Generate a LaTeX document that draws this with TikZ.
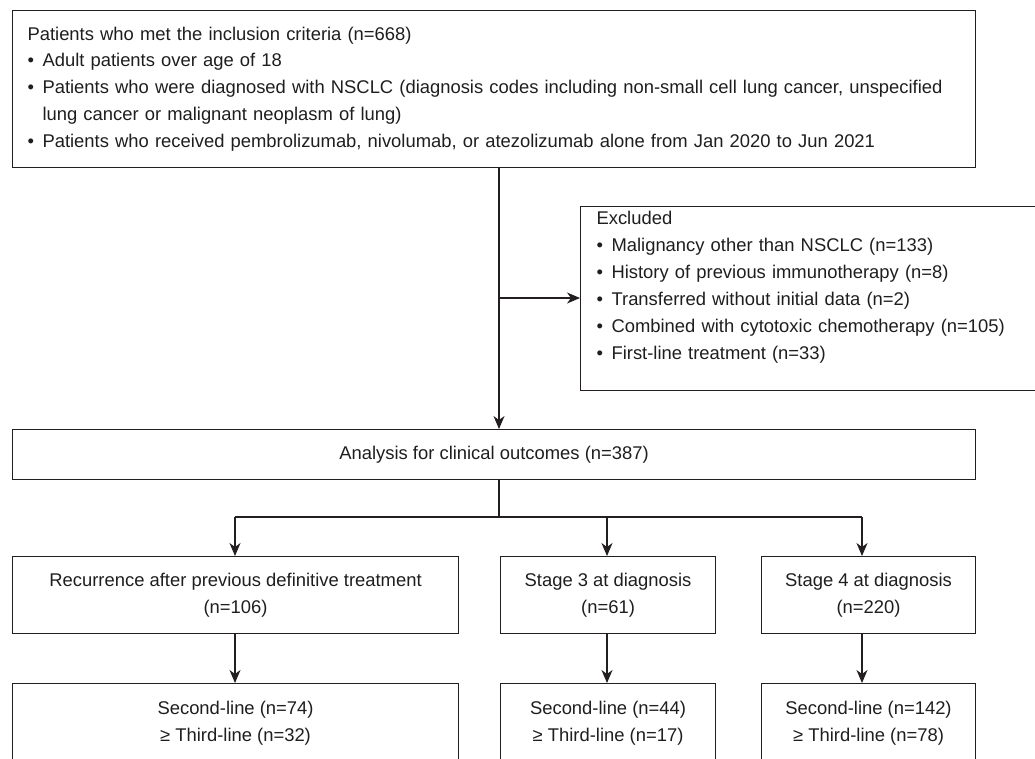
\documentclass[tikz,border=0pt]{standalone}
\usepackage{fontspec}
\setmainfont{Liberation Sans}
\usetikzlibrary{arrows.meta}
\definecolor{ln}{RGB}{35,31,32}
\definecolor{tx}{RGB}{30,30,30}
\tikzset{
  box/.style={draw=ln, line width=1.1pt, rectangle, inner sep=0pt, text=tx,
    font=\fontsize{18.4}{26.9}\selectfont},
  conn/.style={draw=ln, line width=1.1pt},
  arr/.style={conn, -{Stealth[length=13pt, width=11pt, inset=4pt]}},
}
\newcommand{\bul}{\makebox[15pt][l]{\textbullet}}
\begin{document}
\begin{tikzpicture}[x=1pt, y=-1pt]
\useasboundingbox (0,0) rectangle (1035,758);
\clip (0,0) rectangle (1035,758);
% top box
\node[box, minimum width=963pt, minimum height=157pt, text width=933pt, align=left, anchor=north west] (incl) at (12,10)
{Patients who met the inclusion criteria (n=668)\\
\bul Adult patients over age of 18\\
\bul Patients who were diagnosed with NSCLC (diagnosis codes including non-small cell lung cancer, unspecified\\
\hspace*{15pt}lung cancer or malignant neoplasm of lung)\\
\bul Patients who received pembrolizumab, nivolumab, or atezolizumab alone from Jan 2020 to Jun 2021};
% excluded box
\node[box, minimum width=470pt, minimum height=184pt, text width=438pt, align=left, anchor=north west] (excl) at (580,206)
{Excluded\\
\bul Malignancy other than NSCLC (n=133)\\
\bul History of previous immunotherapy (n=8)\\
\bul Transferred without initial data (n=2)\\
\bul Combined with cytotoxic chemotherapy (n=105)\\
\bul First-line treatment (n=33)\\
~};
% analysis
\node[box, minimum width=963pt, minimum height=50pt, anchor=north west] (ana) at (12,429)
{Analysis for clinical outcomes (n=387)};
% level 2
\node[box, minimum width=446pt, minimum height=77pt, align=center, anchor=north west] (rec) at (12,556)
{Recurrence after previous definitive treatment\\(n=106)};
\node[box, minimum width=215pt, minimum height=77pt, align=center, anchor=north west] (st3) at (500,556)
{Stage 3 at diagnosis\\(n=61)};
\node[box, minimum width=214pt, minimum height=77pt, align=center, anchor=north west] (st4) at (761,556)
{Stage 4 at diagnosis\\(n=220)};
% level 3
\node[box, minimum width=446pt, minimum height=79pt, align=center, anchor=north west] (rec2) at (12,683)
{Second-line (n=74)\\≥ Third-line (n=32)};
\node[box, minimum width=215pt, minimum height=79pt, align=center, anchor=north west] (st32) at (500,683)
{Second-line (n=44)\\≥ Third-line (n=17)};
\node[box, minimum width=214pt, minimum height=79pt, align=center, anchor=north west] (st42) at (761,683)
{Second-line (n=142)\\≥ Third-line (n=78)};
% connectors
\coordinate (mx) at (499,0);
\coordinate (brY) at (0,298);
\coordinate (spY) at (0,517);
\coordinate (lx) at (235,0);
\coordinate (cx) at (607,0);
\coordinate (rx) at (862,0);
\draw[arr] (incl.south -| mx) -- (ana.north -| mx);
\draw[arr] (brY -| mx) -- (excl.west |- brY);
\draw[conn] (ana.south -| mx) -- (spY -| mx);
\draw[conn] (spY -| lx) -- (spY -| rx);
\draw[arr] (spY -| lx) -- (rec.north -| lx);
\draw[arr] (spY -| cx) -- (st3.north -| cx);
\draw[arr] (spY -| rx) -- (st4.north -| rx);
\draw[arr] (rec.south -| lx) -- (rec2.north -| lx);
\draw[arr] (st3.south -| cx) -- (st32.north -| cx);
\draw[arr] (st4.south -| rx) -- (st42.north -| rx);
\end{tikzpicture}
\end{document}
